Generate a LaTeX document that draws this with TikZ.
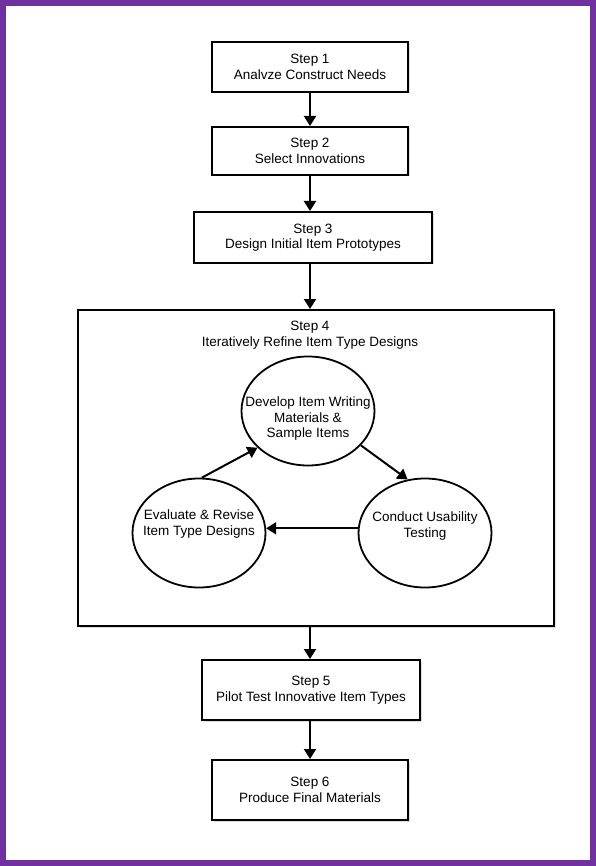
\documentclass[tikz,border=0pt]{standalone}
\usepackage{fontspec}
\setmainfont{Liberation Sans}
\usetikzlibrary{shapes.geometric, arrows.meta, shadows}

\definecolor{framepurple}{RGB}{112,48,160}

\tikzset{
    stepbox/.style={draw, line width=2pt, fill=white, align=center,
        inner sep=0pt, font=\fontsize{13.5}{15.5}\selectfont,
        drop shadow={opacity=0.25, shadow xshift=1.5pt, shadow yshift=-1.5pt}},
    cyclenode/.style={draw, ellipse, line width=1.8pt, fill=white,
        inner sep=0pt, minimum width=133pt, minimum height=109pt},
    cycletext/.style={align=center, font=\fontsize{13.5}{15.5}\selectfont},
    flow/.style={line width=2pt, -{Triangle[length=10pt, width=12pt]}}
}

\begin{document}
\begin{tikzpicture}[x=1pt, y=-1pt]
    \useasboundingbox (0,0) rectangle (596,866);
    \draw[framepurple, line width=6pt] (3,3) rectangle (593,863);

    \node[stepbox, minimum width=196pt, minimum height=50pt] (S1) at (310,67)
        {Step 1\\Analvze Construct Needs};
    \node[stepbox, minimum width=196pt, minimum height=48pt] (S2) at (310,151)
        {Step 2\\Select Innovations};
    \node[stepbox, minimum width=238pt, minimum height=51pt] (S3) at (313,237.5)
        {Step 3\\Design Initial Item Prototypes};
    \node[stepbox, minimum width=476pt, minimum height=316pt] (S4) at (316,468) {};
    \node[cycletext] (S4title) at (310,335)
        {Step 4\\Iteratively Refine Item Type Designs};
    \node[stepbox, minimum width=218pt, minimum height=60pt] (S5) at (311,690)
        {Step 5\\Pilot Test Innovative Item Types};
    \node[stepbox, minimum width=196pt, minimum height=60pt] (S6) at (310,790)
        {Step 6\\Produce Final Materials};

    % inner cycle of step 4
    \node[cyclenode, label={[cycletext, yshift=-8pt]center:Develop Item Writing\\Materials \&\\Sample Items}]
        (develop) at (308,411) {};
    \node[cyclenode, label={[cycletext, yshift=7pt]center:Conduct Usability\\Testing}]
        (usability) at (425,533) {};
    \node[cyclenode, label={[cycletext, yshift=9pt]center:Evaluate \& Revise\\Item Type Designs}]
        (revise) at (199,533) {};

    \draw[flow] (S1.south) -- (S2.north);
    \draw[flow] (S2.south) -- (S2.south |- S3.north);
    \draw[flow] (S2.south |- S3.south) -- (S2.south |- S4.north);
    \draw[flow] (S2.south |- S4.south) -- (S2.south |- S5.north);
    \draw[flow] (S2.south |- S5.south) -- (S6.north);

    \draw[flow] (develop.-33) -- (usability.108);
    \draw[flow] (usability.176) -- (revise.4);
    \draw[flow] (revise.87) -- (develop.-144);
\end{tikzpicture}
\end{document}
